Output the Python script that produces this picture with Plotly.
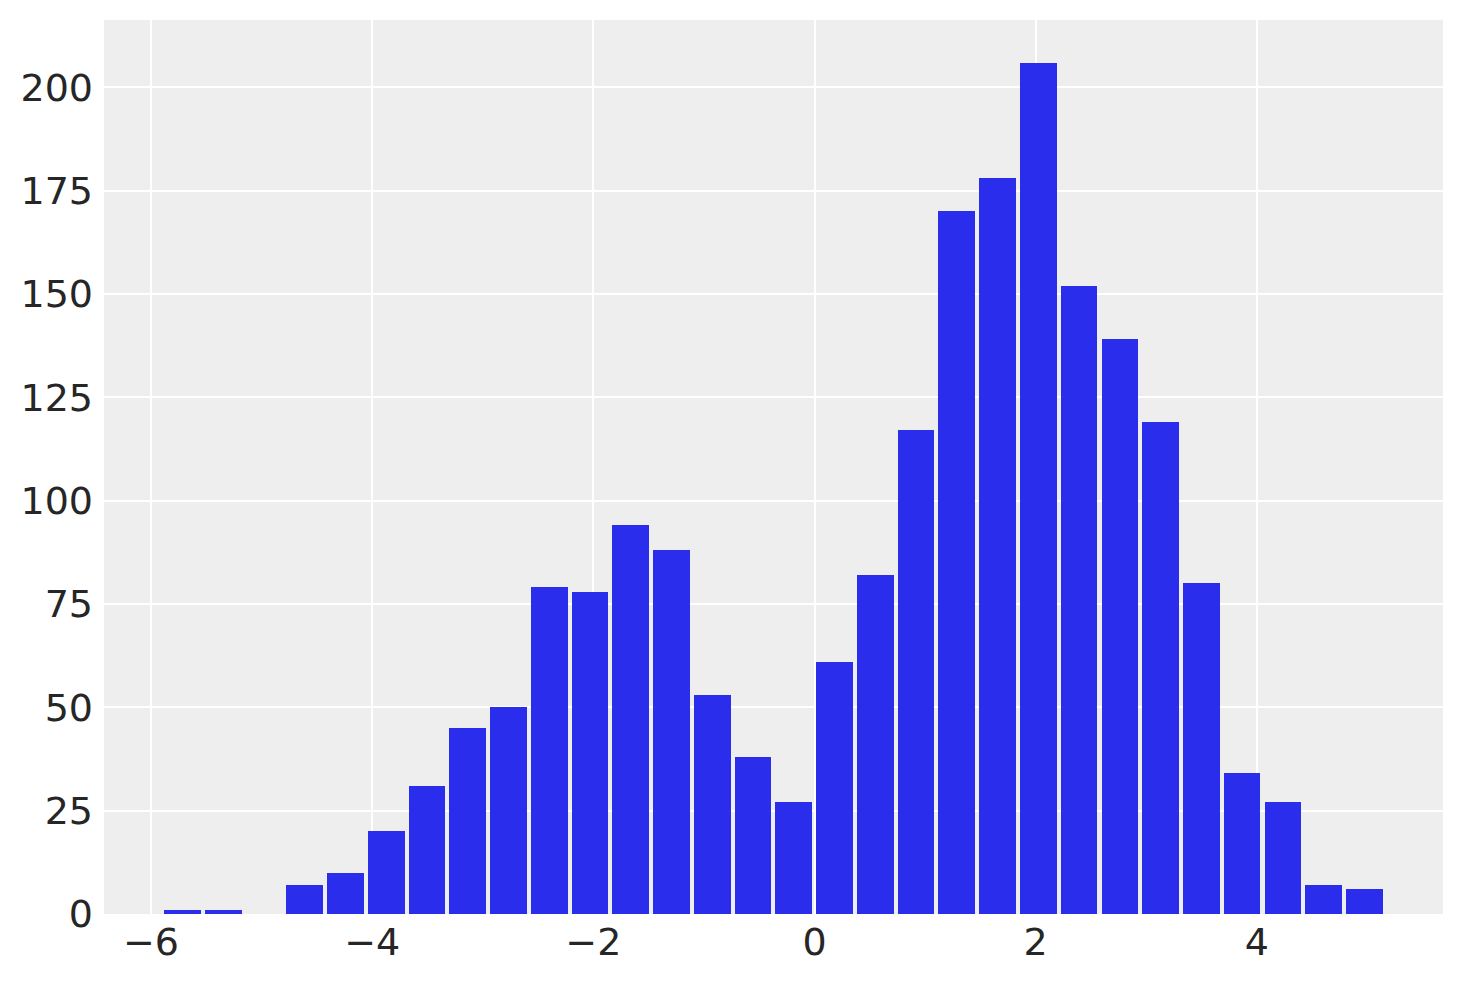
import plotly.graph_objects as go

# histogram data
bin_start = -5.899
bin_width = 0.3685
counts = [1, 1, 0, 7, 10, 20, 31, 45, 50, 79, 78, 94, 88, 53, 38, 27,
          61, 82, 117, 170, 178, 206, 152, 139, 119, 80, 34, 27, 7, 6]
x_ticks = [-6, -4, -2, 0, 2, 4]
y_ticks = [0, 25, 50, 75, 100, 125, 150, 175, 200]

centers = [bin_start + (i + 0.5) * bin_width for i in range(len(counts))]

fig = go.Figure()
fig.add_trace(go.Bar(
    x=centers, y=counts, width=0.9 * bin_width,
    marker=dict(color="#2a2eec", line=dict(width=0)),
    showlegend=False,
))

font = dict(family="DejaVu Sans", size=38, color="#262626")
fig.update_layout(
    width=1455, height=975,
    margin=dict(l=96, r=20, t=12, b=69),
    paper_bgcolor="white", plot_bgcolor="#eeeeee",
    font=font,
    bargap=0,
)
fig.update_xaxes(range=[-6.425, 5.683], tickvals=x_ticks, showgrid=True,
                 gridcolor="white", gridwidth=2, zeroline=False,
                 showline=False, ticks="", ticklabelstandoff=2, tickfont=font)
fig.update_yaxes(range=[0, 216.3], tickvals=y_ticks, showgrid=True,
                 gridcolor="white", gridwidth=2, zeroline=False,
                 showline=False, ticks="", ticklabelstandoff=10, tickfont=font)

fig.write_html("out.html")
